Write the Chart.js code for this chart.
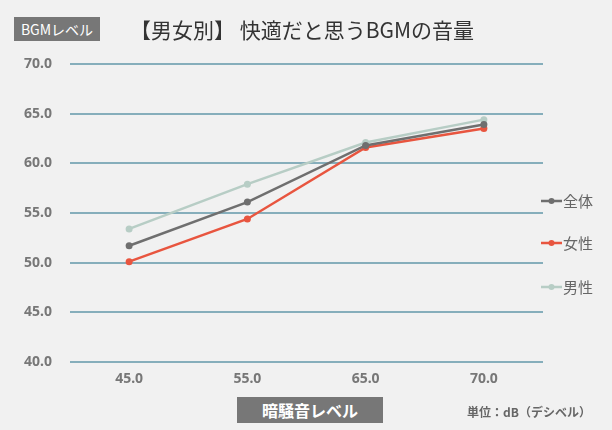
<!DOCTYPE html>
<html lang="ja">
<head>
<meta charset="utf-8">
<script src="https://cdn.jsdelivr.net/npm/chart.js@4"></script>
<style>
  html, body { margin: 0; padding: 0; background: #f1f1f1; }
  #wrap { position: relative; width: 612px; height: 430px; overflow: hidden;
          font-family: "Noto Sans CJK JP", "Noto Sans", sans-serif; }
  #c { position: absolute; left: 0; top: 0; }
  .tag { position: absolute; background: #777; color: #fff; text-align: center; }
  #tag1 { left: 14px; top: 17px; width: 86px; height: 24px; line-height: 24px; font-size: 14px; }
  #title { position: absolute; left: 130px; top: 14px; font-size: 21px; color: #333; white-space: nowrap; line-height: 30px; }
  #tag2 { left: 237px; top: 397px; width: 146px; height: 26px; line-height: 26px; font-size: 16px; font-weight: bold; }
  #unit { position: absolute; left: 467px; top: 402px; font-size: 12px; color: #666; font-weight: bold; white-space: nowrap; line-height: 20px; }
</style>
</head>
<body>
<div id="wrap">
  <canvas id="c" width="612" height="430"></canvas>
  <div class="tag" id="tag1">BGMレベル</div>
  <div id="title">【男女別】 快適だと思うBGMの音量</div>
  <div class="tag" id="tag2">暗騒音レベル</div>
  <div id="unit">単位：dB（デシベル）</div>
</div>
<script>
// 暗騒音レベル (dB) per category
const categories = ['45.0', '55.0', '65.0', '70.0'];
const seriesNames = ['全体', '女性', '男性'];
const totalValues  = [51.7, 56.1, 61.8, 63.9];
const femaleValues = [50.1, 54.4, 61.6, 63.5];
const maleValues   = [53.4, 57.9, 62.1, 64.4];
const yTicks = [40, 45, 50, 55, 60, 65, 70];

const colors = ['#6f6f6f', '#e8553f', '#b7cdc5'];
const seriesValues = [totalValues, femaleValues, maleValues];

// Legend drawn as line + dot markers to the right of the plot
const sideLegend = {
  id: 'sideLegend',
  afterDraw(chart) {
    const ctx = chart.ctx;
    const x0 = 541, rowY = [201, 243, 287];
    ctx.save();
    chart.data.datasets.forEach((ds, i) => {
      const y = rowY[i];
      ctx.strokeStyle = ds.borderColor;
      ctx.lineWidth = 2.5;
      ctx.beginPath(); ctx.moveTo(x0, y); ctx.lineTo(x0 + 21, y); ctx.stroke();
      ctx.fillStyle = ds.borderColor;
      ctx.beginPath(); ctx.arc(x0 + 10.5, y, 3, 0, Math.PI * 2); ctx.fill();
      ctx.fillStyle = '#666';
      ctx.font = '15px "Noto Sans CJK JP", sans-serif';
      ctx.textBaseline = 'middle';
      ctx.fillText(ds.label, x0 + 22, y);
    });
    ctx.restore();
  }
};

const tickFont = { size: 14, weight: 'bold', family: '"Noto Sans", sans-serif' };

new Chart(document.getElementById('c'), {
  type: 'line',
  data: {
    labels: categories,
    datasets: seriesNames.map((name, i) => ({
      label: name,
      data: seriesValues[i],
      borderColor: colors[i],
      backgroundColor: colors[i],
      borderWidth: 2.5,
      pointRadius: 3.5,
      pointBorderWidth: 0,
      tension: 0
    }))
  },
  options: {
    responsive: false,
    animation: false,
    layout: { padding: { top: 64, left: 8, right: 69, bottom: 0 } },
    plugins: { legend: { display: false }, tooltip: { enabled: false } },
    scales: {
      x: {
        offset: true,
        afterFit: s => { s.height = 68; },
        grid: { display: false, drawTicks: false },
        border: { display: false },
        ticks: { color: '#777', font: tickFont, padding: 9 }
      },
      y: {
        min: 40, max: 70,
        afterFit: s => { s.width = 62; },
        afterBuildTicks: s => { s.ticks = yTicks.map(v => ({ value: v })); },
        grid: { color: '#86aebb', lineWidth: 2, drawTicks: false },
        border: { display: false },
        ticks: { color: '#777', font: tickFont, padding: 18,
                 callback: v => Number(v).toFixed(1) }
      }
    }
  },
  plugins: [sideLegend]
});
</script>
</body>
</html>
